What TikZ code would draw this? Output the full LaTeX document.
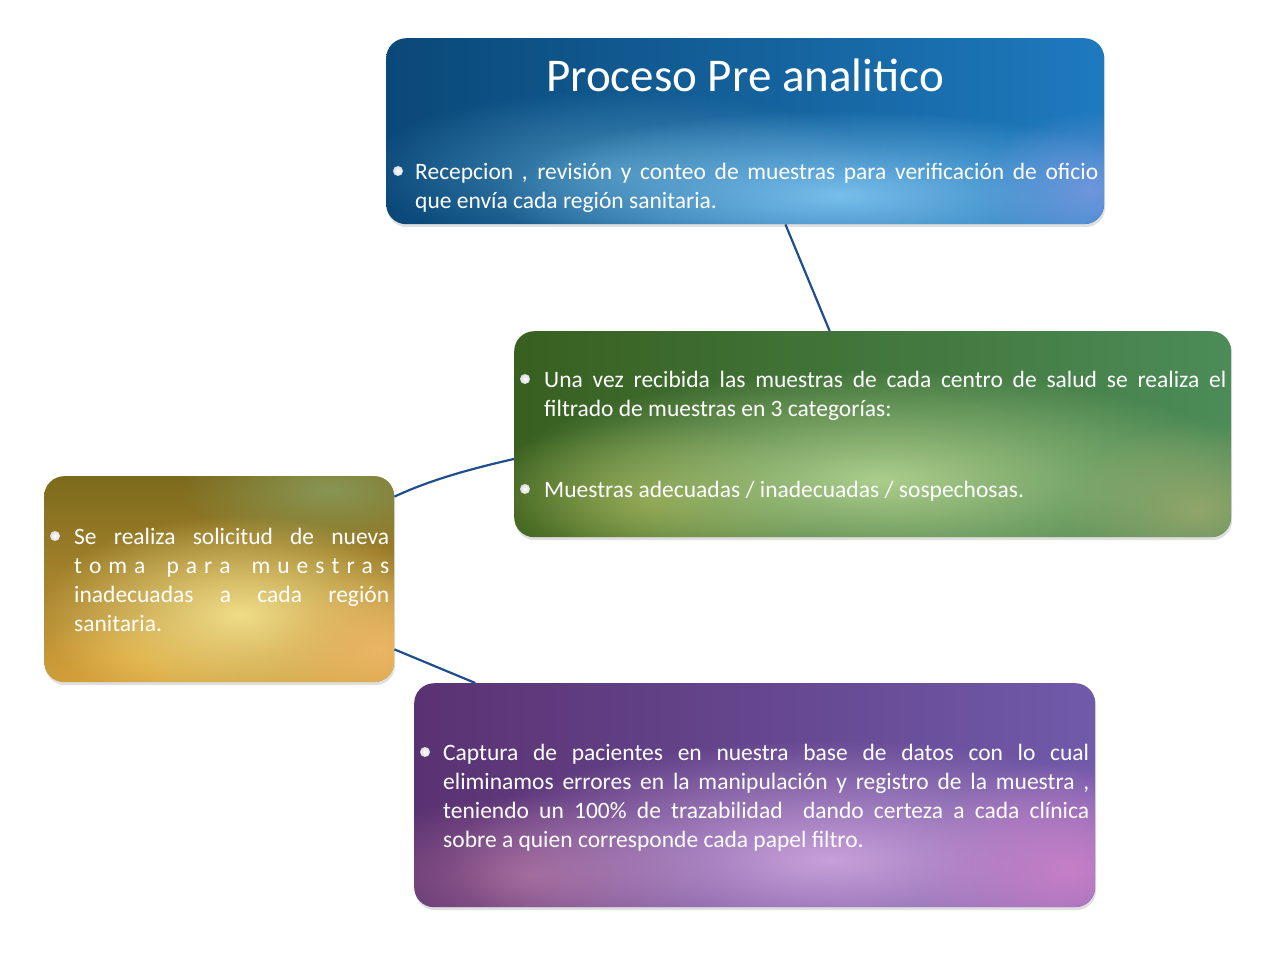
\documentclass[tikz,border=0pt]{standalone}
\usepackage{fontspec}
\setmainfont{Carlito}
\usetikzlibrary{shadows,fadings,calc}
\tikzfading[name=softspot, inner color=transparent!0, outer color=transparent!100]
\definecolor{linkblue}{HTML}{1F4E8C}
\definecolor{bluA}{RGB}{10,72,120}
\definecolor{bluB}{RGB}{30,122,190}
\definecolor{bluG1}{RGB}{120,190,236}
\definecolor{bluG2}{RGB}{80,150,190}
\definecolor{bluG3}{RGB}{110,150,220}
\definecolor{grnA}{RGB}{56,96,32}
\definecolor{grnB}{RGB}{76,140,88}
\definecolor{grnG1}{RGB}{172,206,140}
\definecolor{grnG2}{RGB}{150,160,60}
\definecolor{grnG3}{RGB}{160,170,110}
\definecolor{yelA}{RGB}{124,106,28}
\definecolor{yelB}{RGB}{206,156,60}
\definecolor{yelG1}{RGB}{240,220,136}
\definecolor{yelG2}{RGB}{236,182,100}
\definecolor{yelG3}{RGB}{136,150,84}
\definecolor{yelG4}{RGB}{226,170,56}
\definecolor{purA}{RGB}{90,50,114}
\definecolor{purB}{RGB}{112,90,170}
\definecolor{purG1}{RGB}{200,160,218}
\definecolor{purG2}{RGB}{204,128,200}
\definecolor{purG3}{RGB}{176,110,150}
\definecolor{bulcol}{RGB}{236,236,242}
\begin{document}
\begin{tikzpicture}[x=1pt,y=-1pt,
  box/.style={rounded corners=20pt, inner sep=0pt, anchor=north west,
    drop shadow={shadow xshift=1pt, shadow yshift=-3pt, opacity=0.25}},
  bul/.style={circle, inner sep=0pt, minimum size=10pt, inner color=white, outer color=bulcol!85!gray},
  txt/.style={anchor=north west, inner sep=0pt, text=white, align=justify,
    font=\fontsize{23.5}{29}\selectfont},
  link/.style={draw=linkblue, line width=2.2pt},
  glow/.style={fill=#1, path fading=softspot}]
\useasboundingbox (0,0) rectangle (1280,960);

% boxes
\node[box, minimum width=718pt, minimum height=186pt, left color=bluA, right color=bluB]
  (top) at (386,38) {};
\node[box, minimum width=717pt, minimum height=206pt, left color=grnA, right color=grnB]
  (green) at (514,331) {};
\node[box, minimum width=350pt, minimum height=206pt, top color=yelA, bottom color=yelB]
  (yellow) at (44,476) {};
\node[box, minimum width=681pt, minimum height=224pt, left color=purA, right color=purB]
  (purple) at (414,683) {};

% glows
\begin{scope}
  \clip[rounded corners=20pt] (386,38) rectangle (1104,224);
  \fill[glow=bluG2, opacity=0.8] (620,170) ellipse (260 and 80);
  \fill[glow=bluG1] (840,195) ellipse (340 and 85);
  \fill[glow=bluG3] (1090,190) ellipse (110 and 80);
\end{scope}
\begin{scope}
  \clip[rounded corners=20pt] (514,331) rectangle (1231,537);
  \fill[glow=grnG2, opacity=0.8] (650,500) ellipse (180 and 80);
  \fill[glow=grnG1] (880,480) ellipse (380 and 110);
  \fill[glow=grnG3, opacity=0.8] (1200,510) ellipse (140 and 90);
\end{scope}
\begin{scope}
  \clip[rounded corners=20pt] (44,476) rectangle (394,682);
  \fill[glow=yelG3] (330,490) ellipse (150 and 60);
  \fill[glow=yelG4, opacity=0.8] (140,660) ellipse (110 and 50);
  \fill[glow=yelG1] (240,615) ellipse (200 and 100);
  \fill[glow=yelG2] (380,650) ellipse (110 and 80);
\end{scope}
\begin{scope}
  \clip[rounded corners=20pt] (414,683) rectangle (1095,907);
  \fill[glow=purG3, opacity=0.75] (530,875) ellipse (190 and 80);
  \fill[glow=purG1] (830,860) ellipse (380 and 120);
  \fill[glow=purG2, opacity=0.9] (1070,870) ellipse (160 and 110);
\end{scope}

% connectors
\draw[link] ($(top.south west)!0.556!(top.south east)$) -- ($(green.north west)!0.44!(green.north east)$);
\draw[link] ($(green.north west)!0.62!(green.south west)$) .. controls (470,469) and (430,480) .. ($(yellow.north east)!0.1!(yellow.south east)$);
\draw[link] ($(yellow.north east)!0.84!(yellow.south east)$) -- ($(purple.north west)!0.09!(purple.north east)$);

% texts
\node[anchor=base, inner sep=0pt, text=white, font=\fontsize{47}{52}\selectfont] (title) at (745,92) {Proceso Pre analitico};

\node[bul] (b1) at (398,171) {};
\node[txt, text width=683pt] (t1) at (415,163)
  {Recepcion , revisión y conteo de muestras para verificación de oficio\linebreak que envía cada región sanitaria.};

\node[bul] (b2) at (525,379) {};
\node[txt, text width=682pt] (t2) at (544,371)
  {Una vez recibida las muestras de cada centro de salud se realiza el\linebreak filtrado de muestras en 3 categorías:};
\node[bul] (b3) at (525,489) {};
\node[txt, text width=682pt] (t3) at (544,481)
  {Muestras adecuadas / inadecuadas / sospechosas.};

\node[bul] (b4) at (55,536) {};
\node[txt, text width=315pt] (t4) at (74,528)
  {\makebox[\linewidth][s]{Se realiza solicitud de nueva}\\
   \makebox[\linewidth][s]{t o m a\ \ \ p a r a\ \ \ m u e s t r a s}\\
   \makebox[\linewidth][s]{inadecuadas a cada región}\\
   sanitaria.};

\node[bul] (b5) at (425,752) {};
\node[txt, text width=646pt] (t5) at (443,744)
  {Captura de pacientes en nuestra base de datos con lo cual\linebreak eliminamos errores en la manipulación y registro de la muestra ,\linebreak teniendo un 100\% de trazabilidad\ \ dando certeza a cada clínica\linebreak sobre a quien corresponde cada papel filtro.};
\end{tikzpicture}
\end{document}
